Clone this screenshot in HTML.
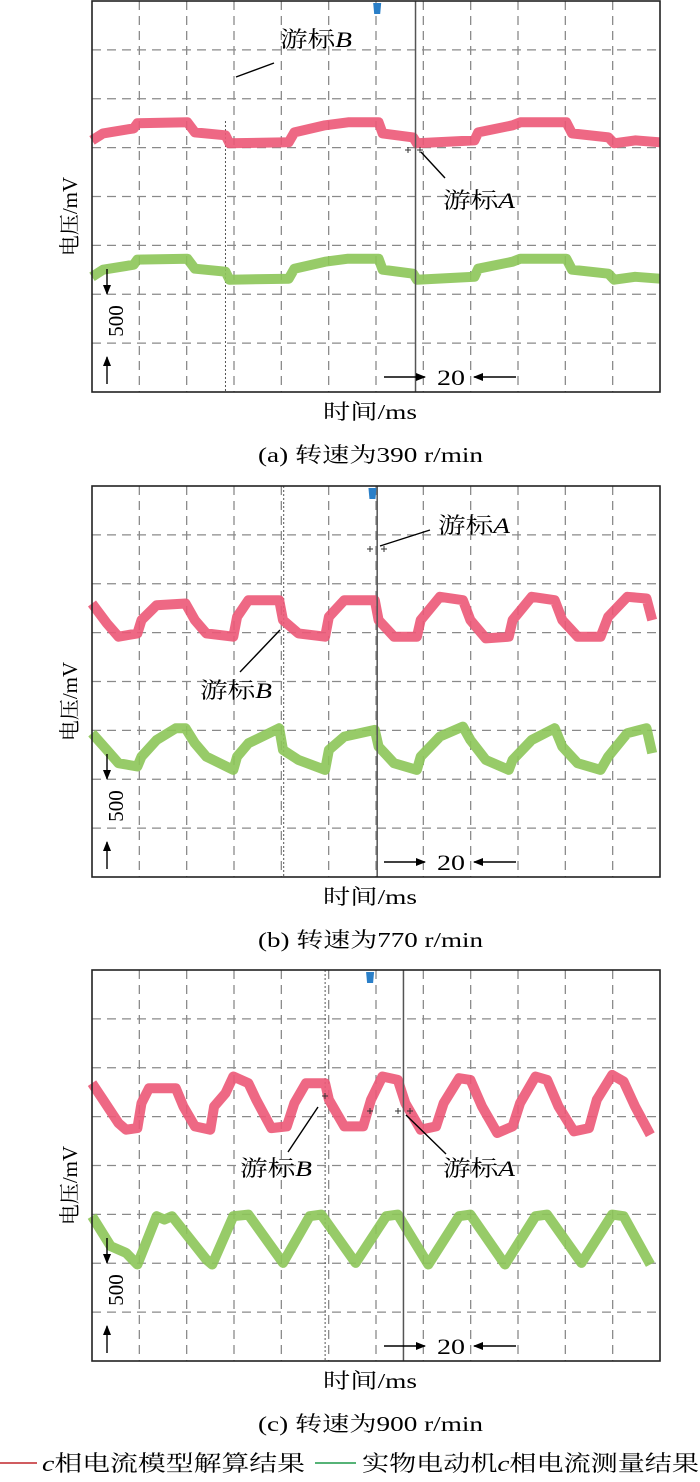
<!DOCTYPE html>
<html><head><meta charset="utf-8">
<style>
html,body{margin:0;padding:0;background:#fff;}
svg{display:block;font-family:"Liberation Serif","Noto Serif CJK SC","Noto Sans CJK SC",serif;}
</style></head>
<body>
<svg id="fig" width="700" height="1482" viewBox="0 0 700 1482">
<defs>
<marker id="ah" markerWidth="10" markerHeight="8" refX="9" refY="4" orient="auto" markerUnits="userSpaceOnUse"><path d="M0,0 L10,4 L0,8 Z" fill="#000"/></marker>
</defs>
<g id="panels"></g>
<g>
<line x1="0" y1="1463" x2="37" y2="1463" stroke="#c0262c" stroke-width="1.5"/>
<text x="42" y="1471" font-size="22" textLength="263" lengthAdjust="spacingAndGlyphs"><tspan font-style="italic">c</tspan>相电流模型解算结果</text>
<line x1="315" y1="1463" x2="356" y2="1463" stroke="#1e9a4a" stroke-width="1.5"/>
<text x="362" y="1471" font-size="22" textLength="337" lengthAdjust="spacingAndGlyphs">实物电动机<tspan font-style="italic">c</tspan>相电流测量结果</text>
</g>
</svg>
<script>
// time in ms (12 div x 20 ms), current in mV measured from bottom of screen (500 mV/div)
const aRedT=[0,4.7,17.6,19.2,40.3,43.5,56.4,58.1,83.1,85.5,98.5,108.2,121.1,122.8,135.7,137.3,161.6,163.2,177.7,181,200.4,202.8,218.2,220.6,229.5,240];
const aRedV=[2574,2646,2697,2749,2759,2656,2626,2544,2554,2656,2728,2759,2759,2646,2605,2544,2574,2656,2728,2759,2759,2646,2605,2544,2574,2554];
const aGreenT=aRedT;
const aGreenV=[1179,1251,1302,1354,1364,1261,1231,1149,1159,1261,1333,1364,1364,1251,1210,1149,1179,1261,1333,1364,1364,1251,1210,1149,1179,1159];
const bRedT=[0,6.3,11.2,19.2,20.9,27.3,39.5,43.5,48.3,59.7,61.3,66.1,79.1,80.7,87.2,98.5,100.1,106.6,119.5,121.1,127.6,137.3,138.9,147,156.7,159.9,166.4,176.1,177.7,185.8,195.5,198.7,205.2,214.9,218.1,226.2,234.3,236.7];
const bRedV=[2798,2594,2458,2492,2628,2781,2798,2628,2492,2458,2662,2832,2832,2628,2492,2458,2662,2832,2832,2628,2458,2458,2628,2866,2832,2628,2441,2458,2628,2866,2832,2628,2458,2458,2662,2866,2849,2628];
const bGreenT=[0,6.3,11.2,19.2,20.9,27.3,35.4,39.5,43.5,48.3,59.7,61.3,66.1,79.1,80.7,87.2,98.5,100.1,106.6,119.5,121.1,127.6,137.3,138.9,147,156.7,159.9,166.4,176.1,177.7,185.8,195.5,198.7,205.2,214.9,218.1,226.2,234.3,236.7];
const bGreenV=[1471,1300,1164,1130,1232,1402,1522,1522,1368,1232,1096,1232,1368,1522,1300,1198,1096,1300,1436,1505,1334,1164,1096,1232,1436,1539,1402,1198,1096,1198,1402,1522,1334,1164,1096,1232,1471,1522,1266];
const cRedT=[0,4.7,11.2,14.4,19.2,20.9,24.1,35.4,38.6,43.5,50,51.6,56.4,59.7,66.1,69.4,75.8,82.3,85.5,90.4,98.5,100.1,106.6,114.6,117.9,122.7,129.2,132.4,138.9,145.4,148.6,155.1,159.9,164.8,171.2,177.7,180.9,187.4,192.3,197.1,203.6,210,213.3,219.8,224.6,229.5,235.9];
const cRedV=[2842,2672,2434,2366,2383,2638,2791,2791,2604,2400,2366,2604,2740,2910,2842,2672,2383,2400,2638,2842,2842,2672,2400,2400,2672,2910,2876,2638,2366,2400,2638,2893,2876,2604,2332,2400,2638,2910,2876,2604,2349,2383,2672,2927,2859,2604,2315];
const cGreenT=[0,7.9,14.4,19.2,27.3,30.6,33.8,48.3,50.8,59.7,66.1,80.7,92,96.9,111.4,124.3,129.2,142.1,155.1,159.9,174.5,187.4,192.3,206.8,219.8,224.6,235.9];
const cGreenV=[1481,1174,1106,987,1481,1447,1481,1038,987,1481,1498,1004,1481,1498,1004,1481,1498,987,1481,1498,987,1481,1498,1004,1498,1481,987];
const xTicks=[0,20,40,60,80,100,120,140,160,180,200,220,240];
const yTicks=[0,500,1000,1500,2000,2500,3000,3500,4000];

const NS="http://www.w3.org/2000/svg";
const L=92,R=660,H=391;
function xs(t){return L+(t-0)/240*(R-L);}
function mk(tag,attrs,parent){const e=document.createElementNS(NS,tag);for(const k in attrs)e.setAttribute(k,attrs[k]);parent.appendChild(e);return e;}
const root=document.getElementById('panels');

const panels=[
 {id:'a',top:1,redT:aRedT,redV:aRedV,gT:aGreenT,gV:aGreenV,cursorB:56.4,cursorA:136.7,blue:120.5,caption:'(a) 转速为390 r/min'},
 {id:'b',top:486,redT:bRedT,redV:bRedV,gT:bGreenT,gV:bGreenV,cursorB:81,cursorA:120.5,blue:118.5,caption:'(b) 转速为770 r/min'},
 {id:'c',top:970,redT:cRedT,redV:cRedV,gT:cGreenT,gV:cGreenV,cursorB:98.5,cursorA:131.6,blue:117.5,caption:'(c) 转速为900 r/min'}
];

panels.forEach(p=>{
  const ys=v=>p.top+H-v/4000*H;
  const g=mk('g',{},root);
  
  
  xTicks.slice(1,-1).forEach(t=>{
    const l=mk('line',{x1:xs(t),x2:xs(t),y1:p.top,y2:p.top+H,stroke:'#8a8a8a','stroke-width':1.3,'stroke-dasharray':'9 6'},g);
    
    
  });
  yTicks.slice(1,-1).forEach(v=>{
    const l=mk('line',{x1:L,x2:R,y1:ys(v),y2:ys(v),stroke:'#8a8a8a','stroke-width':1.3,'stroke-dasharray':'9 6'},g);
    
    
  });
  const cb=mk('line',{x1:xs(p.cursorB),x2:xs(p.cursorB),y1:p.top+(p.id==='a'?120:0),y2:p.top+H,stroke:'#555','stroke-width':1,'stroke-dasharray':'2 2'},g);
  
  
  const path=(T,V)=>T.map((t,i)=>(i?'L':'M')+xs(t).toFixed(1)+','+ys(V[i]).toFixed(1)).join(' ');
  const red=mk('path',{d:path(p.redT,p.redV),fill:'none',stroke:'#ec5877','stroke-width':10,'stroke-linejoin':'round','stroke-opacity':0.9},g);
  
  
  const gr=mk('path',{d:path(p.gT,p.gV),fill:'none',stroke:'#8cc558','stroke-width':10,'stroke-linejoin':'round','stroke-opacity':0.9},g);
  
  
  const ca=mk('line',{x1:xs(p.cursorA),x2:xs(p.cursorA),y1:p.top,y2:p.top+H,stroke:'#555','stroke-width':1.5},g);
  
  
  const bm=mk('path',{d:`M${xs(p.blue)-4},${p.top+2} L${xs(p.blue)+4},${p.top+2} L${xs(p.blue)+3},${p.top+13} L${xs(p.blue)-3},${p.top+13} Z`,fill:'#2a7fc8'},g);
  
  
  const fr=mk('rect',{x:L,y:p.top,width:R-L,height:H,fill:'none',stroke:'#222','stroke-width':1.6},g);
  
  
  const a1=mk('line',{x1:107,y1:p.top+268,x2:107,y2:p.top+293,stroke:'#000','stroke-width':1.4,'marker-end':'url(#ah)'},g);
  
  
  const a2=mk('line',{x1:107,y1:p.top+383,x2:107,y2:p.top+356,stroke:'#000','stroke-width':1.4,'marker-end':'url(#ah)'},g);
  
  
  const t5=mk('text',{x:0,y:0,'font-size':21,'text-anchor':'middle',transform:`translate(123,${p.top+320}) rotate(-90)`},g);
  t5.textContent='500';
  
  
  const a3=mk('line',{x1:384,y1:p.top+376,x2:425,y2:p.top+376,stroke:'#000','stroke-width':1.4,'marker-end':'url(#ah)'},g);
  
  
  const a4=mk('line',{x1:516,y1:p.top+376,x2:474,y2:p.top+376,stroke:'#000','stroke-width':1.4,'marker-end':'url(#ah)'},g);
  
  
  const t20=mk('text',{x:437,y:p.top+384,'font-size':22,textLength:28,lengthAdjust:'spacingAndGlyphs'},g);
  t20.textContent='20';
  
  
  const yt=mk('text',{x:0,y:0,'font-size':21,'text-anchor':'middle',transform:`translate(77,${p.top+H/2+20}) rotate(-90)`},g);
  yt.textContent='电压/mV';
  
  
  const xt=mk('text',{x:323,y:p.top+H+27,'font-size':21,textLength:94,lengthAdjust:'spacingAndGlyphs'},g);
  xt.textContent='时间/ms';
  
  
  const cap=mk('text',{x:258,y:p.top+H+70,'font-size':21,textLength:225,lengthAdjust:'spacingAndGlyphs'},g);
  cap.textContent=p.caption;
  
  
});

const ann=[
 {lx1:236,ly1:77,lx2:274,ly2:63,tx:280,ty:47,lab:'B'},
 {lx1:421,ly1:152,lx2:445,ly2:178,tx:443,ty:208,lab:'A'},
 {lx1:380,ly1:546,lx2:430,ly2:530,tx:438,ty:533,lab:'A'},
 {lx1:280,ly1:630,lx2:240,ly2:672,tx:200,ty:698,lab:'B'},
 {lx1:318,ly1:1107,lx2:288,ly2:1152,tx:240,ty:1176,lab:'B'},
 {lx1:406,ly1:1115,lx2:446,ly2:1154,tx:443,ty:1176,lab:'A'}
];
const ag=mk('g',{},document.getElementById('fig'));


ann.forEach(a=>{
  const l=mk('line',{x1:a.lx1,y1:a.ly1,x2:a.lx2,y2:a.ly2,stroke:'#000','stroke-width':1.4},ag);
  
  
  const t=mk('text',{x:a.tx,y:a.ty,'font-size':22,textLength:72,lengthAdjust:'spacingAndGlyphs'},ag);
  t.innerHTML='游标<tspan font-style="italic">'+a.lab+'</tspan>';
  
  
});
[[370,549],[384,549],[408,150],[420,150],[370,1111],[398,1111],[410,1111],[325,1096]].forEach(c=>{
  const m=mk('path',{d:`M${c[0]-3},${c[1]} h6 M${c[0]},${c[1]-3} v6`,stroke:'#333','stroke-width':1},ag);
  
  
});
</script>
</body></html>
